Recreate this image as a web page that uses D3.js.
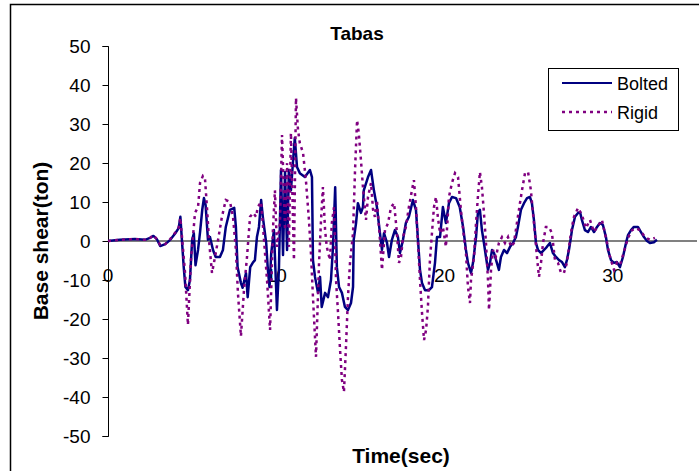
<!DOCTYPE html>
<html>
<head>
<meta charset="utf-8">
<script src="https://cdn.jsdelivr.net/npm/d3@7"></script>
<style>
  body { margin: 0; background: #fff; }
  svg { font-family: "Liberation Sans", Arial, sans-serif; }
</style>
</head>
<body>
<div id="chart"></div>
<script>
var svgWidth = 699;
var svgHeight = 471;

// Tick values
var yTicks = [-50, -40, -30, -20, -10, 0, 10, 20, 30, 40, 50];
var xTicks = [0, 10, 20, 30];

// Bolted connection: time (sec) and base shear (ton)
var boltedTime = [0, 0.7, 1.6, 2.2, 2.5, 2.7, 2.9, 3.1, 3.4, 3.7, 4.0, 4.2, 4.3, 4.5, 4.6, 4.75, 4.87, 5.0, 5.1, 5.2,
  5.35, 5.47, 5.6, 5.7, 5.8, 5.94, 6.06, 6.24, 6.4, 6.65, 6.83, 7.0, 7.25, 7.5, 7.6, 7.7, 7.9, 8.0, 8.2, 8.3,
  8.45, 8.6, 8.73, 8.85, 8.97, 9.1, 9.2, 9.4, 9.5, 9.6, 9.7, 9.86, 10.04, 10.16, 10.28, 10.4, 10.52, 10.64, 10.75, 10.87,
  11.0, 11.1, 11.23, 11.4, 11.7, 12.0, 12.12, 12.18, 12.3, 12.48, 12.6, 12.7, 12.9, 13.07, 13.25, 13.37, 13.5, 13.6, 13.73, 13.9,
  14.08, 14.26, 14.44, 14.56, 14.6, 14.74, 14.85, 15.03, 15.15, 15.2, 15.45, 15.63, 15.8, 15.98, 16.16, 16.28, 16.4, 16.58, 16.7, 16.87,
  17.05, 17.23, 17.35, 17.53, 17.7, 17.88, 18.12, 18.3, 18.42, 18.54, 18.66, 18.84, 19.07, 19.25, 19.43, 19.55, 19.73, 19.9, 20.08, 20.26,
  20.44, 20.68, 20.9, 21.1, 21.27, 21.39, 21.57, 21.69, 21.87, 21.98, 22.1, 22.22, 22.34, 22.46, 22.58, 22.7, 22.82, 22.94, 23.11, 23.23,
  23.35, 23.53, 23.71, 23.89, 24.06, 24.24, 24.36, 24.54, 24.72, 24.9, 25.07, 25.19, 25.31, 25.43, 25.55, 25.73, 25.91, 26.08, 26.26, 26.44,
  26.62, 26.8, 26.98, 27.15, 27.27, 27.39, 27.51, 27.57, 27.75, 27.93, 28.05, 28.16, 28.34, 28.52, 28.7, 28.88, 29.06, 29.23, 29.41, 29.59,
  29.71, 29.89, 30.07, 30.24, 30.42, 30.6, 30.78, 30.9, 31.08, 31.25, 31.49, 31.67, 31.85, 32.03, 32.2, 32.44, 32.62];
var boltedShear = [0, 0.3, 0.5, 0.3, 0.8, 1.3, 0.5, -1.3, -0.8, 0.3, 2.0, 3.3, 6.2, -6.7, -11.8, -12.6, -10, 0.3, 2.0, -6.2,
  -2.3, 2.3, 8, 11, 9.2, 0.3, 1.0, -2.3, -4.1, -4.1, -2.3, 3.6, 8, 8.5, 3.6, -6.7, -10.8, -12, -8.2, -14.4,
  -6.7, -5.6, -4.9, 1.0, 3.6, 10.5, 6.2, -0.5, -7.4, -11.8, -3.1, 2.8, -17.7, -6.7, 18.2, -3.6, 17.7, -2.3, 18.2, 13,
  20.8, 26.4, 19, 17.4, 16.4, 18.2, 16.4, -4.9, -9.2, -13.3, -9.2, -16.9, -13.3, -14.4, -10, -1.5, 13.8, -6.7, -11.8, -13.3,
  -16.9, -17.7, -15.9, -11.8, 0.3, 4.6, 9.7, 7.2, 8.7, 13, 16.4, 18.2, 13, 8.7, 2, -2.3, 2, -0.5, -4.1, 0.3,
  2.8, 1.0, -3.1, 0.3, 4.6, 6.2, 10.5, 8, 0.3, -7.4, -10.8, -12.6, -12.6, -11.8, -5.6, 1.0, 1.0, 8.7, 4.6, 9.7,
  11.3, 11, 8.7, 3.6, -2.3, -5.6, -8.2, -5.6, 1.0, 7.2, 8, 2.8, -0.5, -4.1, -7.4, -5.6, -2.3, -3.1, -5.6, -7.4,
  -4.1, -2.3, -3.1, -1.5, -0.5, 1.0, 3.6, 8, 9.7, 11, 11.3, 9.7, 5.4, -0.5, -2.3, -3.1, -2.3, -1.5, -0.5, -3.1,
  -4.1, -4.9, -5.4, -6.7, -4.9, -2.3, 1.0, 2.8, 6.2, 7.2, 7.4, 5.4, 2.8, 2.3, 3.6, 2.3, 3.6, 4.6, 4.1, 1.0,
  -2.3, -4.9, -5.6, -5.4, -6.7, -4.1, -0.5, 1.5, 2.8, 3.6, 3.6, 2.3, 1.0, 0, -0.5, -0.3, 0.3];

// Rigid connection: time (sec) and base shear (ton)
var rigidTime = [0, 0.7, 1.6, 2.2, 2.5, 2.7, 2.9, 3.1, 3.4, 3.7, 4.0, 4.2, 4.3, 4.58, 4.75, 4.93, 5.17, 5.35, 5.47, 5.64,
  5.76, 5.88, 6.0, 6.18, 6.36, 6.54, 6.77, 7.0, 7.25, 7.43, 7.6, 7.72, 7.9, 8.08, 8.26, 8.44, 8.62, 8.8, 8.9, 9.1,
  9.27, 9.45, 9.63, 9.8, 9.92, 10.04, 10.22, 10.34, 10.52, 10.64, 10.75, 10.87, 11.05, 11.17, 11.29, 11.4, 11.59, 11.76, 11.94, 12.06,
  12.18, 12.36, 12.54, 12.66, 12.77, 12.9, 13.0, 13.19, 13.3, 13.43, 13.55, 13.67, 13.78, 13.9, 14.02, 14.14, 14.26, 14.38, 14.56, 14.68,
  14.8, 14.9, 15.03, 15.15, 15.33, 15.45, 15.63, 15.75, 15.86, 15.98, 16.16, 16.28, 16.46, 16.64, 16.82, 17.0, 17.17, 17.29, 17.41, 17.53,
  17.7, 17.88, 18.06, 18.18, 18.3, 18.42, 18.54, 18.66, 18.78, 18.9, 19.01, 19.13, 19.25, 19.37, 19.49, 19.6, 19.73, 19.9, 20.08, 20.26,
  20.44, 20.62, 20.8, 20.97, 21.15, 21.27, 21.39, 21.51, 21.57, 21.75, 21.87, 21.98, 22.1, 22.22, 22.34, 22.46, 22.58, 22.64, 22.76, 22.88,
  23.05, 23.23, 23.41, 23.59, 23.77, 23.95, 24.12, 24.3, 24.48, 24.6, 24.78, 24.96, 25.13, 25.25, 25.37, 25.49, 25.61, 25.73, 25.85, 26.02,
  26.2, 26.38, 26.56, 26.74, 26.92, 27.09, 27.27, 27.45, 27.57, 27.69, 27.93, 28.16, 28.4, 28.64, 28.88, 29.11, 29.35, 29.59, 29.83, 30.07,
  30.24, 30.42, 30.66, 30.9, 31.14, 31.37, 31.61, 31.91, 32.2, 32.5];
var rigidShear = [0, 0.3, 0.5, 0.3, 0.8, 1.5, 0.5, -1.0, -0.8, 0.5, 2.2, 3.5, 5.9, -8.2, -21.5, -4.9, 7.2, 8.7, 14.9, 16.7,
  16.2, 8.7, 0.3, -8.2, -4.1, 0.3, 6.2, 10.5, 10, 6.2, -2.3, -13.3, -24.4, -12.6, -4.1, 6.2, 7.2, 6.2, 8.7, 10,
  0.3, -10, -22.8, 2.8, 13, -1.5, 4.6, 27.2, 2.8, 20, -1.5, 27.7, -4.9, 36.7, 28.5, 25.1, 22.6, 15.6, 5.4, -3.1,
  -14.4, -29.7, -5.6, 5.4, 13.8, 2.8, -1.5, -4.9, 4.6, 8.7, -10, -18.5, -27.2, -35.6, -38.7, -27.2, -14.4, -5.6, 2, 18.2,
  31, 27.7, 20.8, 13.8, 5.4, 11.3, 14.9, 8, 6.2, 10.5, 0.3, -7.4, 2.8, 4.6, 8.7, 9.7, 2, -5.6, -4.1, 1.0,
  3.6, 8.7, 13, 15.6, 8.7, -0.5, -10, -18.5, -25.4, -22.8, -16.9, -4.9, 2, 8.7, 11.3, 6.2, 2, 3.6, -1.5, 11.3,
  14.9, 17.4, 16.4, 8, 1.0, -3.1, -11.8, -15.9, -10, -4.1, 4.6, 11.3, 17.7, 13.8, 7.2, -0.5, -10, -17.7, -7.4, -2.3,
  -4.1, -0.5, 1.0, -0.5, 1.0, -1.5, -0.5, 4.6, 9.7, 13, 17.4, 17.7, 13, 7.2, 2, -4.1, -9.2, -5.6, -0.5, 3.6,
  3.6, 2, -4.9, -5.6, -8.2, -8.2, -5.6, 0.3, 3.6, 6.2, 8.5, 6.7, 3.3, 5.4, 2.3, 3.8, 5.4, 0.8, -4.1, -7.4,
  -5.6, -6.2, -2.8, 0.8, 2.8, 3.3, 2.8, 1.0, 0.3, 0.8];

var bolted = boltedTime.map(function(t, i) { return {t: t, v: boltedShear[i]}; });
var rigid = rigidTime.map(function(t, i) { return {t: t, v: rigidShear[i]}; });

var svg = d3.select("#chart")
  .append("svg")
  .attr("width", svgWidth)
  .attr("height", svgHeight);

// outer chart frame (right and bottom edges fall outside the picture)
svg.append("rect")
  .attr("x", 10.5)
  .attr("y", 4.5)
  .attr("width", 720)
  .attr("height", 500)
  .attr("fill", "none")
  .attr("stroke", "#000")
  .attr("stroke-width", 1.5);

var xScale = d3.scaleLinear()
  .domain([0, 35])
  .range([108, 697]);

var yScale = d3.scaleLinear()
  .domain([-50, 50])
  .range([436, 46]);

// zero line (category axis)
svg.append("line")
  .attr("x1", xScale(0))
  .attr("x2", xScale(35))
  .attr("y1", yScale(0))
  .attr("y2", yScale(0))
  .attr("stroke", "#808080")
  .attr("stroke-width", 2);

// y axis, plain hyphen for negatives like the original
var leftAxis = d3.axisLeft(yScale)
  .tickValues(yTicks)
  .tickSize(6)
  .tickPadding(12)
  .tickFormat(d => String(d));

var yAxisG = svg.append("g")
  .attr("transform", "translate(108.5, 0)")
  .call(leftAxis);
yAxisG.select(".domain").attr("stroke", "#000").attr("d", "M-6," + (yScale(50) + 0.5) + "H0V" + (yScale(-50) + 0.5) + "H-6");
yAxisG.selectAll("text")
  .attr("font-size", "19px")
  .attr("font-family", "Liberation Sans, Arial, sans-serif")
  .attr("fill", "#000");

// x tick labels sit just under the zero line
svg.selectAll(".xlab")
  .data(xTicks)
  .enter()
  .append("text")
  .attr("class", "xlab")
  .attr("x", d => xScale(d))
  .attr("y", yScale(0) + 41)
  .attr("text-anchor", "middle")
  .attr("font-size", "19px")
  .text(d => d);

var line = d3.line()
  .x(d => xScale(d.t))
  .y(d => yScale(d.v));

svg.append("path")
  .datum(bolted)
  .attr("d", line)
  .attr("fill", "none")
  .attr("stroke", "#000080")
  .attr("stroke-width", 2.5)
  .attr("stroke-linejoin", "round");

svg.append("path")
  .datum(rigid)
  .attr("d", line)
  .attr("fill", "none")
  .attr("stroke", "#800080")
  .attr("stroke-width", 2.5)
  .attr("stroke-dasharray", "3,4");

// title and axis titles
svg.append("text")
  .attr("x", 357)
  .attr("y", 40)
  .attr("text-anchor", "middle")
  .attr("font-size", "19px")
  .attr("font-weight", "bold")
  .text("Tabas");

svg.append("text")
  .attr("transform", "translate(48, 241) rotate(-90)")
  .attr("text-anchor", "middle")
  .attr("font-size", "21px")
  .attr("font-weight", "bold")
  .text("Base shear(ton)");

svg.append("text")
  .attr("x", 401)
  .attr("y", 463)
  .attr("text-anchor", "middle")
  .attr("font-size", "21px")
  .attr("font-weight", "bold")
  .text("Time(sec)");

// legend
var legend = svg.append("g");
legend.append("rect")
  .attr("x", 548.5)
  .attr("y", 68.5)
  .attr("width", 130)
  .attr("height", 62)
  .attr("fill", "#fff")
  .attr("stroke", "#000");

var legendItems = [
  {name: "Bolted", color: "#000080", dash: null, y: 83},
  {name: "Rigid", color: "#800080", dash: "3,4", y: 112}
];

legendItems.forEach(function(item) {
  legend.append("line")
    .attr("x1", 562)
    .attr("x2", 612)
    .attr("y1", item.y)
    .attr("y2", item.y)
    .attr("stroke", item.color)
    .attr("stroke-width", item.dash ? 2.5 : 2)
    .attr("stroke-dasharray", item.dash);
  legend.append("text")
    .attr("x", 617)
    .attr("y", item.y + 7)
    .attr("font-size", "18px")
    .text(item.name);
});
</script>
</body>
</html>
